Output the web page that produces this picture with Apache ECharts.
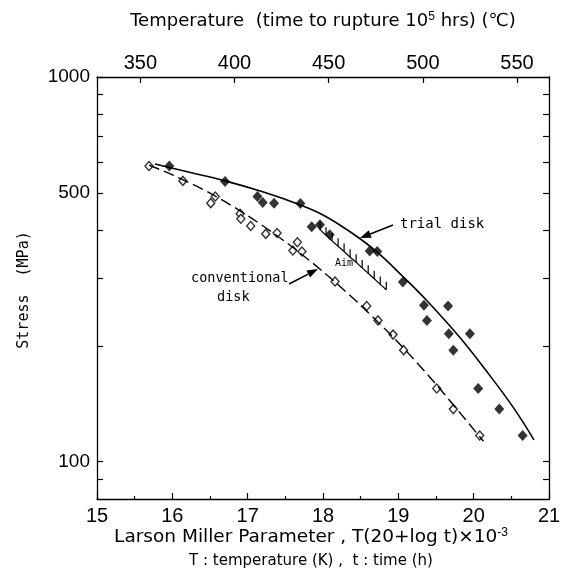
<!DOCTYPE html>
<html>
<head>
<meta charset="utf-8">
<script src="https://cdn.jsdelivr.net/npm/echarts@6/dist/echarts.min.js"></script>
<style>
  html, body { margin: 0; padding: 0; background: #fff; }
  #main { width: 571px; height: 585px; }
</style>
</head>
<body>
<div id="main"></div>
<script>
// open diamonds - conventional disk  [LMP, stress MPa]
var conventional = [[15.69,587],[16.14,537],[16.57,489],[16.51,470],[16.90,441],[16.91,428],[17.04,410],[17.24,391],[17.39,393],[17.66,372],[17.60,354],[17.72,352],[18.16,294],[18.58,254],[18.73,233],[18.93,214],[19.07,195],[19.51,155],[19.73,137],[20.08,117]];
// filled diamonds - trial disk
var trial = [[15.96,587],[16.70,535],[17.13,489],[17.20,472],[17.35,470],[17.70,469],[17.85,408],[17.96,413],[18.09,389],[18.62,353],[18.72,352],[19.06,293],[19.34,255],[19.66,254],[19.38,233],[19.67,215],[19.95,215],[19.73,195],[20.06,155],[20.34,137],[20.65,117]];
// fitted curves
var trialCurve = [[15.77,594],[16.2,567],[16.7,537],[17.2,503],[17.7,465],[18.0,438],[18.36,396],[18.7,353],[19.06,303],[19.38,262],[19.82,210],[20.17,172],[20.53,138],[20.8,114]];
var conventionalCurve = [[15.69,590],[16.0,557],[16.5,499],[17.0,436],[17.5,373],[18.0,312],[18.5,255],[19.0,204],[19.5,159],[20.13,113]];
// "Aim" hatched boundary
var aimLine = [[17.96,401],[18.04,388],[18.12,375],[18.20,363],[18.28,352],[18.36,340],[18.44,330],[18.52,319],[18.60,309],[18.68,299],[18.76,289],[18.84,280]];
// axis ticks
var stressTicks = [90,100,200,300,400,500,600,700,800,900,1000];
var stressLabels = [100,500,1000];
var tempLabels = [350,400,450,500,550];

var dom = document.getElementById('main');
var myChart = echarts.init(dom);

var numFont = 'Liberation Sans';

// arrow helper: line + filled head at (x2,y2)
function arrow(x1, y1, x2, y2) {
  var a = Math.atan2(y2 - y1, x2 - x1);
  var len = 11, w = 4;
  var bx = x2 - len * Math.cos(a), by = y2 - len * Math.sin(a);
  var px = -Math.sin(a) * w, py = Math.cos(a) * w;
  return [
    { type: 'line', shape: { x1: x1, y1: y1, x2: bx, y2: by }, style: { stroke: '#000', lineWidth: 1.5 } },
    { type: 'polygon', shape: { points: [[x2, y2], [bx + px, by + py], [bx - px, by - py]] }, style: { fill: '#000' } }
  ];
}

var option = {
  backgroundColor: '#fff',
  animation: false,
  grid: { left: 97, top: 77, right: 22, bottom: 86 },
  xAxis: [
    {
      type: 'value', min: 15, max: 21, interval: 1,
      axisLine: { lineStyle: { color: '#000', width: 1.3 } },
      axisTick: { inside: true, length: 6, lineStyle: { color: '#000', width: 1.2 } },
      minorTick: { show: true, splitNumber: 2, length: 3, lineStyle: { color: '#000', width: 1.2 } },
      axisLabel: { color: '#000', fontSize: 20, fontFamily: numFont, margin: 7 },
      splitLine: { show: false }
    },
    {
      // temperature for 1e5 h, T(°C) = LMP/0.025 - 273
      type: 'value', position: 'top', min: 327, max: 567,
      axisLine: { lineStyle: { color: '#000', width: 1.3 } },
      axisTick: { inside: true, length: 6, customValues: tempLabels, lineStyle: { color: '#000', width: 1.2 } },
      axisLabel: { color: '#000', fontSize: 20, fontFamily: numFont, margin: 4, customValues: tempLabels },
      splitLine: { show: false }
    }
  ],
  yAxis: [
    {
      type: 'log', logBase: 10, min: 80, max: 1000,
      axisLine: { show: true, lineStyle: { color: '#000', width: 1.3 } },
      axisTick: { inside: true, length: 6, customValues: stressTicks, lineStyle: { color: '#000', width: 1.2 } },
      axisLabel: {
        color: '#000', fontSize: 19, fontFamily: numFont, margin: 7, customValues: stressLabels,
        formatter: function (v) { return String(Math.round(v)); }
      },
      splitLine: { show: false }
    },
    {
      type: 'log', logBase: 10, min: 80, max: 1000, position: 'right',
      axisLine: { show: true, lineStyle: { color: '#000', width: 1.3 } },
      axisTick: { inside: true, length: 6, customValues: stressTicks, lineStyle: { color: '#000', width: 1.2 } },
      axisLabel: { show: false },
      splitLine: { show: false }
    }
  ],
  series: [
    {
      name: 'trial curve', type: 'line', data: trialCurve, smooth: 0.4,
      showSymbol: false, lineStyle: { color: '#000', width: 1.6 }
    },
    {
      name: 'conventional curve', type: 'line', data: conventionalCurve, smooth: 0.3,
      showSymbol: false, lineStyle: { color: '#000', width: 1.4, type: [11, 5] }
    },
    {
      name: 'aim', type: 'line', data: aimLine, showSymbol: false,
      lineStyle: { color: '#000', width: 1.2 }
    },
    {
      name: 'aim hatch', type: 'custom', data: aimLine,
      renderItem: function (params, api) {
        var p = api.coord([api.value(0), api.value(1)]);
        return { type: 'line', shape: { x1: p[0], y1: p[1], x2: p[0], y2: p[1] - 8 }, style: { stroke: '#000', lineWidth: 1.2 } };
      }
    },
    {
      name: 'trial disk', type: 'scatter', data: trial, symbol: 'diamond', symbolSize: [10, 11],
      itemStyle: { color: '#000' }
    },
    {
      name: 'conventional disk', type: 'scatter', data: conventional, symbol: 'diamond', symbolSize: [8, 9],
      itemStyle: { color: '#fff', borderColor: '#000', borderWidth: 1.4 }
    }
  ],
  graphic: [
    {
      type: 'text', x: 323, y: 21,
      style: {
        text: 'Temperature  (time to rupture 10{sup|5} hrs) (℃)',
        font: '18px "DejaVu Sans"', fill: '#000', align: 'center', verticalAlign: 'middle',
        rich: { sup: { fontSize: 12, verticalAlign: 'top', padding: [0, 0, 9, 0] } }
      }
    },
    {
      type: 'text', x: 24, y: 290, rotation: Math.PI / 2,
      style: { text: 'Stress  (MPa)', font: '15px "DejaVu Sans Mono"', fill: '#000', align: 'center', verticalAlign: 'middle' }
    },
    {
      type: 'text', x: 311, y: 537,
      style: {
        text: 'Larson Miller Parameter , T(20+log t)×10{sup|-3}',
        font: '18.5px "DejaVu Sans"', fill: '#000', align: 'center', verticalAlign: 'middle',
        rich: { sup: { fontSize: 12, verticalAlign: 'top', padding: [0, 0, 9, 0] } }
      }
    },
    {
      type: 'text', x: 311, y: 561,
      style: { text: 'T : temperature (K) ,  t : time (h)', font: '15px "DejaVu Sans"', fill: '#000', align: 'center', verticalAlign: 'middle' }
    },
    {
      type: 'text', x: 400, y: 224,
      style: { text: 'trial disk', font: '14px "DejaVu Sans Mono"', fill: '#000', verticalAlign: 'middle' }
    },
    {
      type: 'text', x: 191, y: 278,
      style: { text: 'conventional', font: '13.5px "DejaVu Sans Mono"', fill: '#000', verticalAlign: 'middle' }
    },
    {
      type: 'text', x: 217, y: 297,
      style: { text: 'disk', font: '13.5px "DejaVu Sans Mono"', fill: '#000', verticalAlign: 'middle' }
    },
    {
      type: 'text', x: 335, y: 263,
      style: { text: 'Aim', font: '10px "DejaVu Sans Mono"', fill: '#000', verticalAlign: 'middle' }
    }
  ].concat(arrow(393, 225, 360, 238)).concat(arrow(289, 284, 318, 269))
};

myChart.setOption(option, true);
</script>
</body>
</html>
